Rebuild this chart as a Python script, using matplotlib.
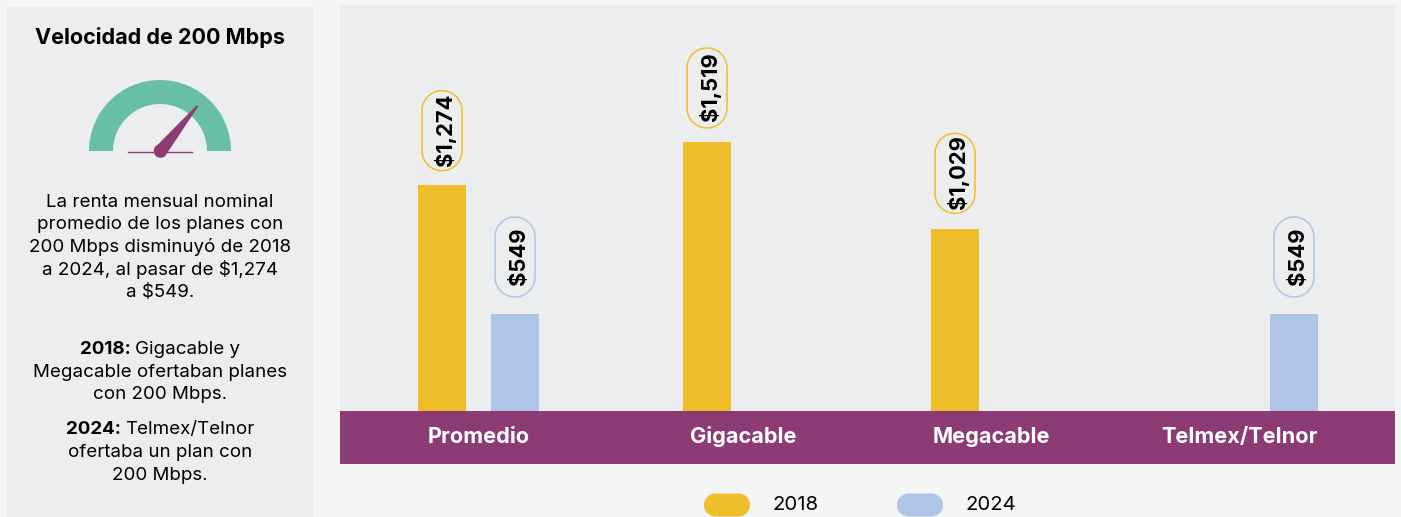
import numpy as np
import matplotlib
matplotlib.use('Agg')
import matplotlib.pyplot as plt
from matplotlib.patches import Rectangle, Wedge, Circle, Polygon

categories = ['Promedio', 'Gigacable', 'Megacable', 'Telmex/Telnor']
values_2018 = [1274, 1519, 1029, None]
values_2024 = [549, None, None, 549]
series_names = ['2018', '2024']
title = 'Velocidad de 200 Mbps'
body_lines = ['La renta mensual nominal', 'promedio de los planes con',
              '200 Mbps disminuyó de 2018', 'a 2024, al pasar de $1,274', 'a $549.']

W, H = 1401, 517
BG = '#f4f6f5'
PANEL = '#ecedef'
PURPLE = '#8d3b75'
YELLOW = '#f0bd2b'
BLUE = '#afc5e7'
GREEN = '#66bfa6'
FONT = 'Inter'
BODY = 13.5

plt.rcParams['font.family'] = FONT

# pixel positions of the bars and labels in the layout
bar_x_2018 = [442, 707, 955, None]
bar_x_2024 = [515, None, None, 1294]
label_x = [478.5, 743, 991, 1240]
BAR_W = 48
PX_PER_UNIT = 0.1772
BASE_Y = 411

fig = plt.figure(figsize=(W / 100, H / 100), dpi=100, facecolor=BG)

# page overlay in pixels, y flipped
bg = fig.add_axes([0, 0, 1, 1], zorder=0)
bg.set_xlim(0, W)
bg.set_ylim(H, 0)
bg.axis('off')
bg.add_patch(Rectangle((7, 7), 306, 510, fc=PANEL, ec='none'))
bg.add_patch(Rectangle((340, 5), 1055, 406, fc=PANEL, ec='none'))
bg.add_patch(Rectangle((340, 411), 1055, 53, fc=PURPLE, ec='none'))

# bars
ax = fig.add_axes([340 / W, (H - BASE_Y) / H, 1055 / W, 406 / H], zorder=1)
ax.patch.set_alpha(0)
ax.set_xlim(340, 1395)
ax.set_ylim(0, 406 / PX_PER_UNIT)
ax.axis('off')

top = fig.add_axes([0, 0, 1, 1], zorder=2)
top.set_xlim(0, W)
top.set_ylim(H, 0)
top.axis('off')
top.patch.set_alpha(0)


def pill_outline(cx, cy, half_w, half_h):
    # stadium shape, the plain round boxstyle comes out too square
    r = min(half_w, half_h)
    t = np.linspace(0, np.pi, 40)
    if half_h >= half_w:
        xs = np.r_[cx + r * np.cos(t), cx - r * np.cos(t)]
        ys = np.r_[cy - (half_h - r) - r * np.sin(t), cy + (half_h - r) + r * np.sin(t)]
    else:
        xs = np.r_[cx + (half_w - r) + r * np.sin(t), cx - (half_w - r) - r * np.sin(t)]
        ys = np.r_[cy - r * np.cos(t), cy + r * np.cos(t)]
    return np.column_stack([xs, ys])


def pill(x, val, color):
    cy = 352.6 - 0.1742 * val
    top.add_patch(Polygon(pill_outline(x, cy, 20, 40), closed=True, fc='none', ec=color, lw=1.1))
    top.text(x + 10, cy - 1, f'${val:,}', rotation=90, ha='center', va='baseline',
             rotation_mode='anchor', fontsize=15.8, fontweight='bold', color='black')


for xs, vals, col in [(bar_x_2018, values_2018, YELLOW), (bar_x_2024, values_2024, BLUE)]:
    for x, v in zip(xs, vals):
        if v is None:
            continue
        ax.bar(x, v, width=BAR_W, color=col, linewidth=0)
        pill(x, v, col)

for x, c in zip(label_x, categories):
    top.text(x, 443, c, ha='center', va='baseline', fontsize=15.6, fontweight='bold', color='white')

# legend
for x, name, col, tx in [(727, series_names[0], YELLOW, 795.5), (920, series_names[1], BLUE, 991)]:
    top.add_patch(Polygon(pill_outline(x, 505, 23, 11.5), closed=True, fc=col, ec='none'))
    top.text(tx, 510, name, ha='center', va='baseline', fontsize=14.6, color='black')

# left panel
top.text(160, 43.5, title, ha='center', va='baseline', fontsize=15.5, fontweight='bold', color='black')

# gauge
top.add_patch(Wedge((160, 151), 71, 180, 360, width=24, fc=GREEN, ec='none'))
top.plot([128, 192], [151.5, 151.5], color=PURPLE, lw=1)
top.add_patch(Circle((160.5, 151), 6.8, fc=PURPLE, ec='none'))
top.add_patch(Polygon([(155, 147.5), (167.5, 152.5), (198.5, 106), (196.5, 105.5)], closed=True, fc=PURPLE, ec='none'))

body_y = [207, 229, 252, 275, 297]
for y, line in zip(body_y, body_lines):
    top.text(160, y, line, ha='center', va='baseline', fontsize=BODY, color='black')


def mixed(y, bold, rest):
    r = fig.canvas.get_renderer()
    a = top.text(0, y, bold, ha='left', va='baseline', fontsize=BODY, fontweight='bold', color='black')
    b = top.text(0, y, rest, ha='left', va='baseline', fontsize=BODY, color='black')
    wa = a.get_window_extent(r).width
    wb = b.get_window_extent(r).width
    gap = 4
    x0 = 160 - (wa + wb + gap) / 2
    a.set_x(x0)
    b.set_x(x0 + wa + gap)


mixed(354, '2018:', 'Gigacable y')
top.text(160, 377, 'Megacable ofertaban planes', ha='center', va='baseline', fontsize=BODY, color='black')
top.text(160, 399, 'con 200 Mbps.', ha='center', va='baseline', fontsize=BODY, color='black')
mixed(434, '2024:', 'Telmex/Telnor')
top.text(160, 457, 'ofertaba un plan con', ha='center', va='baseline', fontsize=BODY, color='black')
top.text(160, 480, '200 Mbps.', ha='center', va='baseline', fontsize=BODY, color='black')

fig.savefig('out.png', dpi=100, facecolor=BG)
